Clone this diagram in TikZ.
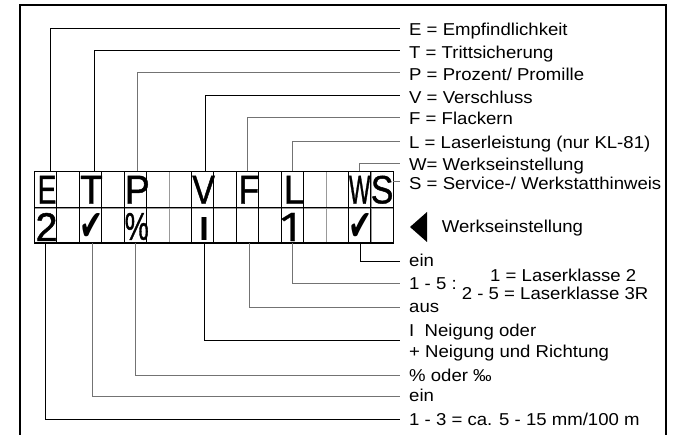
\documentclass[tikz,border=0pt]{standalone}
\usepackage{fontspec}
\setmainfont{Liberation Sans}[FakeStretch=1.08]
\newfontfamily\lcdfont{Liberation Sans}[FakeBold=1.2]
\newfontfamily\onefont{Noto Sans}[FakeBold=0.6]
\newfontfamily\symfont{DejaVu Sans}
\newfontfamily\boldsans{Liberation Sans Bold}
\usetikzlibrary{calc}
\newcommand\lcd[3]{\resizebox*{#1pt}{#2pt}{\lcdfont #3}}
\begin{document}
\begin{tikzpicture}[x=1pt,y=-1pt,
  conn/.style={line width=1pt, draw=black},
  conng/.style={line width=1pt, draw=black!55},
  cella/.style={draw=black!40, line width=0.8pt, minimum width=22.44pt, minimum height=36.5pt, inner sep=0pt, outer sep=0pt, anchor=north west},
  cellb/.style={cella, minimum height=35pt},
  lbl/.style={anchor=base west, inner sep=0pt, font=\fontsize{17.2}{20}\selectfont},
  glyph/.style={inner sep=0pt, outer sep=0pt}]
\useasboundingbox (0,0) rectangle (674,435);
% frame
\draw[line width=1.2pt] (20,437) -- (20,5) -- (666,5) -- (666,437);
% grid cells
\foreach \i in {0,...,15} {
  \node[cella] (a\i) at ({34.3+22.44*\i},171.5) {};
  \node[cellb] (b\i) at ({34.3+22.44*\i},208) {};
}
\foreach \i in {0,2,4,7,9,11,14,15} {
  \draw[line width=1pt] (a\i.north west) rectangle (b\i.south east);
}
\draw[line width=1.1pt] (a0.north west) rectangle (b15.south east);
\draw[line width=1pt] (a0.south west) -- (a15.south east);
% letters row 1
\node[glyph] (gE) at ($(a0)+(1.5,0)$) {\lcd{18.8}{28}{E}};
\node[glyph] (gT) at ($(a2)+(1,0)$) {\lcd{22.5}{28}{T}};
\node[glyph] (gP) at ($(a4)+(2,0)$) {\lcd{25}{28}{P}};
\node[glyph] (gV) at ($(a7)+(1,0)$) {\lcd{22.7}{28}{V}};
\node[glyph] (gF) at ($(a9)+(1.5,0)$) {\lcd{20.5}{28}{F}};
\node[glyph] (gL) at ($(a11)+(2,0)$) {\lcd{21}{28}{L}};
\node[glyph] (gW) at (a14) {\lcd{21.3}{28}{W}};
\node[glyph] (gS) at ($(a15)+(0,0)$) {\lcd{22.5}{28}{S}};
% row 2
\node[glyph] (v2) at ($(b0)+(1,1.5)$) {\lcd{22}{28}{2}};
\node[glyph] (vT) at ($(b2)+(1,1.3)$) {\resizebox*{24pt}{27pt}{\symfont ✔}};
\node[glyph] (vP) at ($(b4)+(1.5,1)$) {\lcd{24}{27}{\%}};
\node[glyph] (vV) at ($(b7)+(1.6,3)$) {\resizebox*{9.5pt}{23pt}{\boldsans I}};
\node[glyph] (vL) at ($(b11)+(-1,1.5)$) {\resizebox*{28pt}{28pt}{\onefont 1}};
\node[glyph] (vW) at ($(b14)+(0.5,1.3)$) {\resizebox*{24pt}{27pt}{\symfont ✔}};
% connector ends (top)
\coordinate (eE) at (400,28.3);
\coordinate (eT) at (400,50.7);
\coordinate (eP) at (400,72.7);
\coordinate (eV) at (400,95.7);
\coordinate (eF) at (400,117.3);
\coordinate (eL) at (400,141.3);
\coordinate (eW) at (400,163.3);
\coordinate (eS) at (400,181.7);
% connector ends (bottom)
\coordinate (fW) at (400,261.7);
\coordinate (fL) at (400,284);
\coordinate (fF) at (400,307.7);
\coordinate (fV) at (400,340);
\coordinate (fP) at (400,375);
\coordinate (fT) at (400,396.7);
\coordinate (fE) at (400,419);
% top connectors
\draw[conn]  ([xshift=4.5pt]a0.north) |- (eE);
\draw[conn]  ([xshift=3.9pt]a2.north) |- (eT);
\draw[conng] ([xshift=2.4pt]a4.north) |- (eP);
\draw[conn]  ([xshift=3.1pt]a7.north) |- (eV);
\draw[conng] (a9.north) |- (eF);
\draw[conng] (a11.north) |- (eL);
\draw[conng] (a14.north) |- (eW);
\draw[conng] (a15.east |- eS) -- (eS);
% bottom connectors
\draw[conn]  ([xshift=1.3pt]b14.south) |- (fW);
\draw[conng] (b11.south) |- (fL);
\draw[conng] ([xshift=1.8pt]b9.south) |- (fF);
\draw[conn]  ([xshift=1.7pt]b7.south) |- (fV);
\draw[conng] (b4.south) |- (fP);
\draw[conng] ([xshift=1.6pt]b2.south) |- (fT);
\draw[conn]  (b0.south) |- (fE);
% top labels
\node[lbl] (lE) at (409,35.7) {E = Empfindlichkeit};
\node[lbl] (lT) at (409,58.1) {T = Trittsicherung};
\node[lbl] (lP) at (409,80.1) {P = Prozent/ Promille};
\node[lbl] (lV) at (409,103.1) {V = Verschluss};
\node[lbl] (lF) at (409,124.7) {F = Flackern};
\node[lbl] (lL) at (409,148.7) {L = Laserleistung (nur KL-81)};
\node[lbl] (lW) at (409,170.7) {W= Werkseinstellung};
\node[lbl] (lS) at (409,189.1) {S = Service-/ Werkstatthinweis};
% factory setting marker
\fill (410,227) -- (427,212) -- (427,242) -- cycle;
\node[lbl] (lWE) at (441.7,233) {Werkseinstellung};
% bottom labels
\node[lbl] (mW) at (409,267) {ein};
\node[lbl] (mL) at (409,290) {1 - 5 :};
\node[lbl] (mL1) at (490,282) {1 = Laserklasse 2};
\node[lbl] (mL2) at (461.7,300) {2 - 5 = Laserklasse 3R};
\node[lbl] (mF) at (409,312.5) {aus};
\node[lbl] (mV1) at (409,336.7) {I~~Neigung oder};
\node[lbl] (mV2) at (409,357) {+ Neigung und Richtung};
\node[lbl] (mP) at (409,381.7) {\% oder ‰};
\node[lbl] (mT) at (409,401.7) {ein};
\node[lbl] (mE) at (409,425) {1 - 3 = ca. 5 - 15 mm/100 m};
\end{tikzpicture}
\end{document}
